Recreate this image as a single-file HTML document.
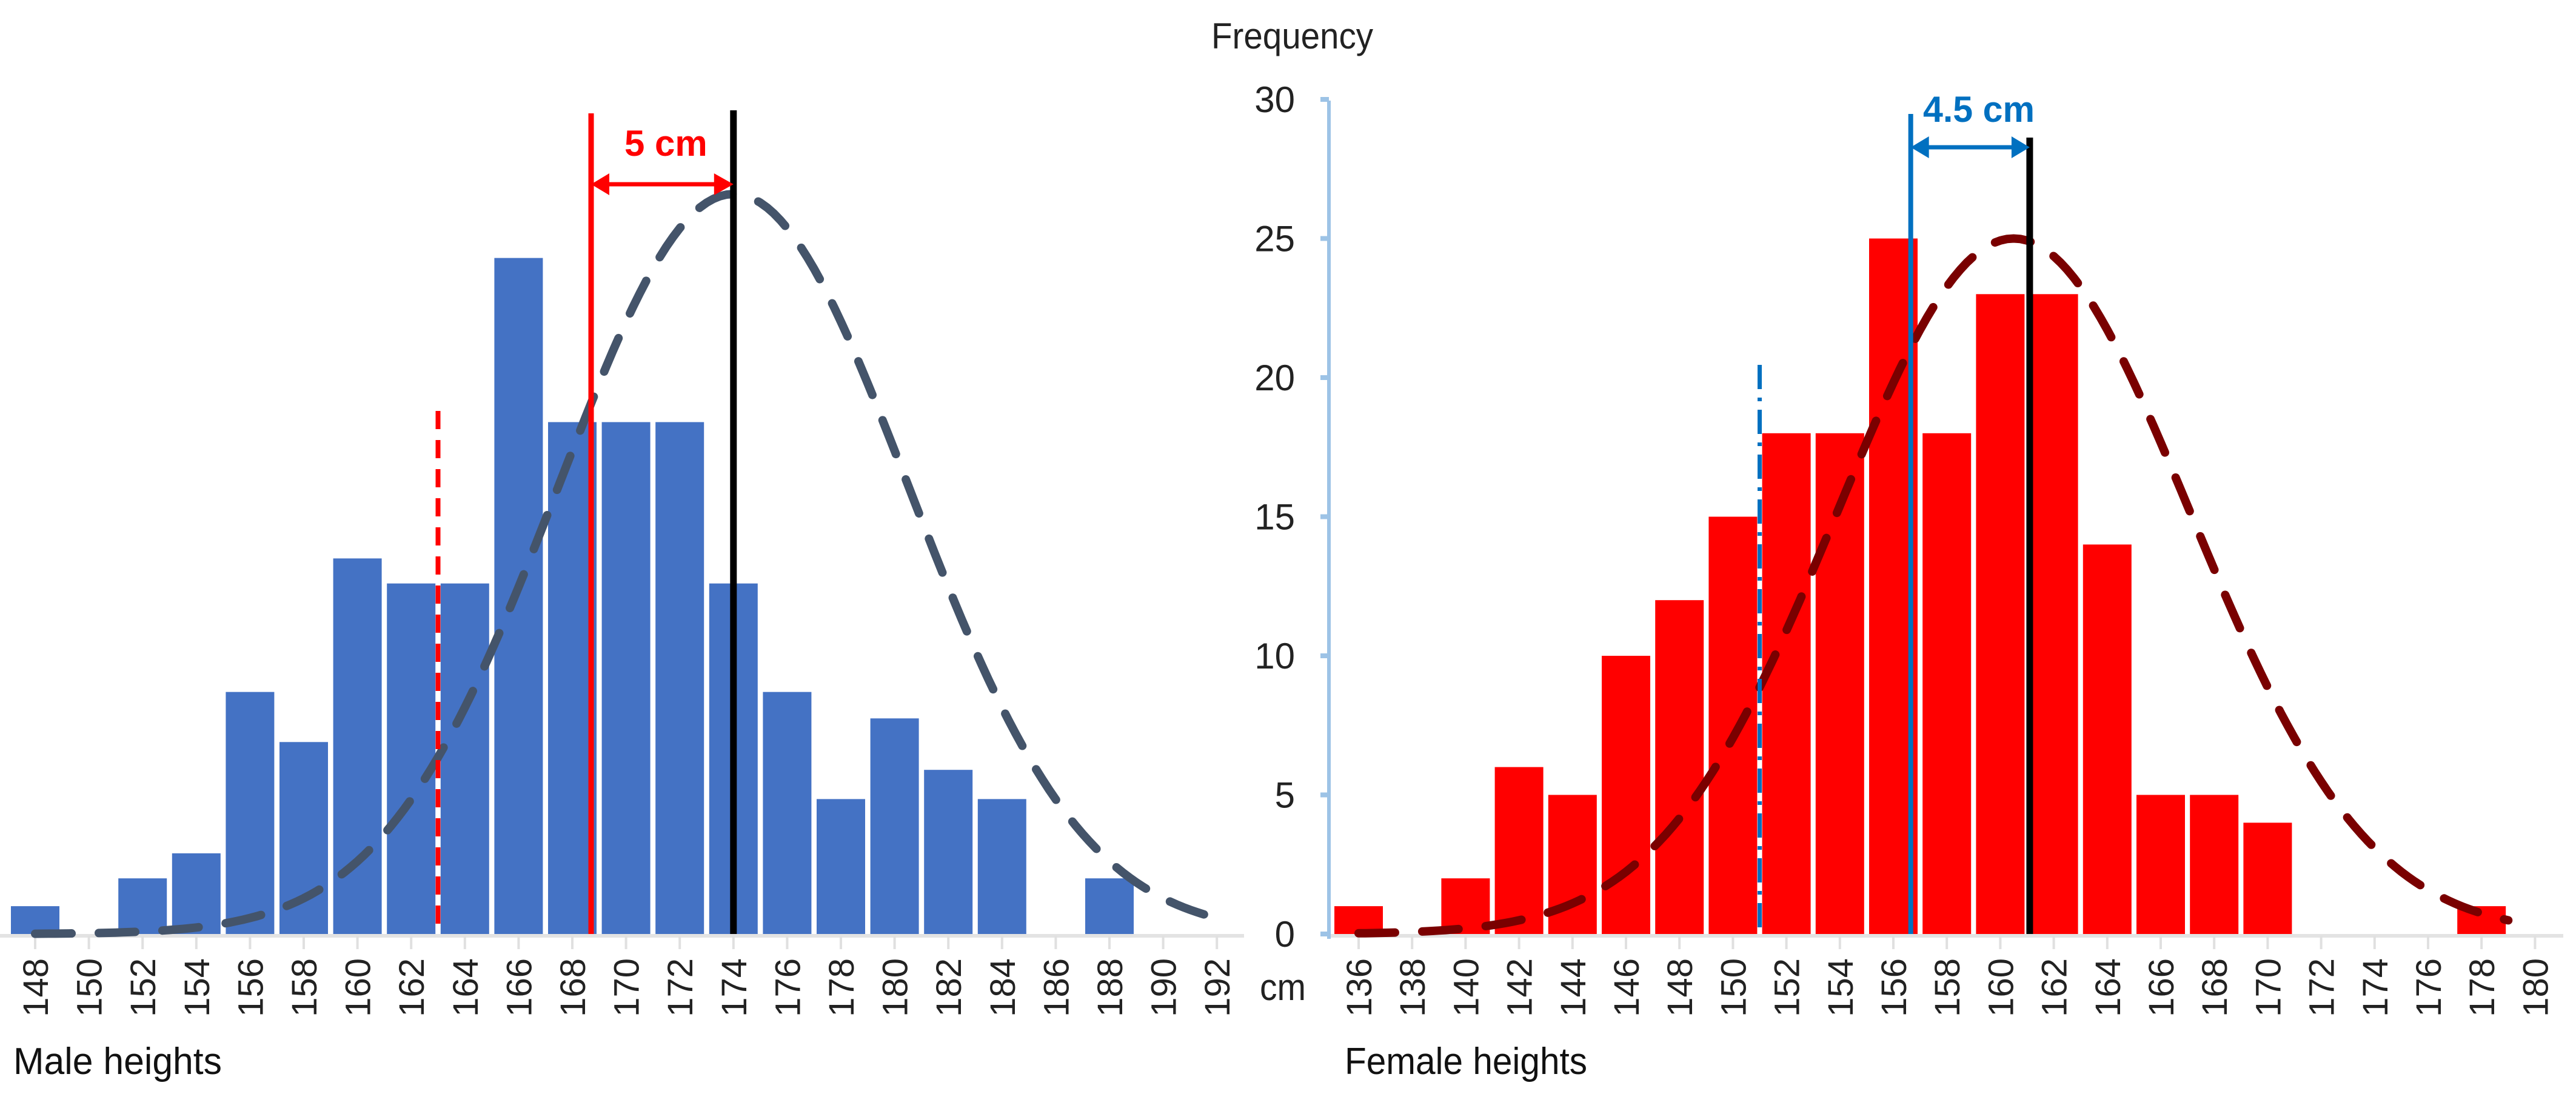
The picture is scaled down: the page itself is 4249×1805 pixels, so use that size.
<!DOCTYPE html>
<html><head><meta charset="utf-8"><style>
html,body{margin:0;padding:0;background:#fff;}
svg{display:block;}
text{font-family:"Liberation Sans Narrow","Liberation Sans",sans-serif;}
</style></head><body>
<svg id="chart" width="4249" height="1805" viewBox="0 0 4249 1805" xmlns="http://www.w3.org/2000/svg">
<g id="male"></g>
<g id="female"></g>
<g id="common"></g>
</svg>
<script>
const maleCategories = [148,150,152,154,156,158,160,162,164,166,168,170,172,174,176,178,180,182,184,186,188,190,192];
const maleValues = [1,0,2,2.9,8.7,6.9,13.5,12.6,12.6,24.3,18.4,18.4,18.4,12.6,8.7,4.85,7.75,5.9,4.85,0,2,0,0];
const femaleCategories = [136,138,140,142,144,146,148,150,152,154,156,158,160,162,164,166,168,170,172,174,176,178,180];
const femaleValues = [1,0,2,6,5,10,12,15,18,18,25,18,23,23,14,5,5,4,0,0,0,1,0];
const yTicks = [0,5,10,15,20,25,30];
const maleCurve = {mean:174, sd:6.5, peak:26.6, from:148, to:192.5};
const femaleCurve = {mean:160.5, sd:6.6, peak:25, from:136, to:179};
const maleMarkers = {dashed:163, mean:168.7, peak:174, label:"5 cm"};
const femaleMarkers = {dashed:151, mean:156.65, peak:161.1, label:"4.5 cm"};

const NS = "http://www.w3.org/2000/svg";
const BASE = 1541, UNIT = 45.9;
const yS = v => BASE - v*UNIT;
const xMale = v => 58 + (v-148)*44.3;
const xFemale = v => 2241 + (v-136)*44.1;
function mk(parent, tag, attrs, txt){
  const e = document.createElementNS(NS, tag);
  for (const k in attrs) e.setAttribute(k, attrs[k]);
  if (txt !== undefined) e.textContent = txt;
  parent.appendChild(e);
  return e;
}

function drawPanel(g, cats, vals, xS, color, curve, curveColor, axisStart, axisEnd){
  const ax = mk(g,'line',{x1:axisStart,x2:axisEnd,y1:BASE+3,y2:BASE+3,stroke:'#e3e3e3','stroke-width':6});
  
  
  cats.forEach((c,i)=>{
    const x = xS(c);
    const t = mk(g,'line',{x1:x,x2:x,y1:BASE+3,y2:BASE+25,stroke:'#e0e0e0','stroke-width':4});
    
    
    const lab = mk(g,'text',{x:0,y:0,'font-size':58,fill:'#222','text-anchor':'end',
      'font-family':'"Liberation Sans",sans-serif',
      transform:`translate(${x+21},1581) rotate(-90)`}, String(c));
    
    
    if (vals[i] > 0){
      const h = vals[i]*UNIT;
      const r = mk(g,'rect',{x:x-40,y:BASE-h,width:80,height:h,fill:color});
      
      
    }
  });
  let d = '';
  for (let v = curve.from; v <= curve.to + 1e-9; v += 0.25){
    const f = curve.peak*Math.exp(-Math.pow(v-curve.mean,2)/(2*curve.sd*curve.sd));
    d += (d ? 'L' : 'M') + xS(v).toFixed(1) + ',' + yS(f).toFixed(1);
  }
  const p = mk(g,'path',{d:d,fill:'none',stroke:curveColor,'stroke-width':14,'stroke-dasharray':'60 45','stroke-linecap':'round'});
  
  
}

const gm = document.getElementById('male');
drawPanel(gm, maleCategories, maleValues, xMale, '#4472c4', maleCurve, '#44546a', 0, 2052);
const gf = document.getElementById('female');
drawPanel(gf, femaleCategories, femaleValues, xFemale, '#ff0000', femaleCurve, '#7a0000', 2192, 4228);

let e;
e = mk(gm,'line',{x1:xMale(maleMarkers.dashed),x2:xMale(maleMarkers.dashed),y1:678,y2:BASE,stroke:'#ff0000','stroke-width':8,'stroke-dasharray':'30 18'});


e = mk(gm,'line',{x1:xMale(maleMarkers.mean),x2:xMale(maleMarkers.mean),y1:187,y2:BASE,stroke:'#ff0000','stroke-width':9});


e = mk(gm,'line',{x1:xMale(maleMarkers.peak),x2:xMale(maleMarkers.peak),y1:182,y2:BASE,stroke:'#000','stroke-width':11});


{
  const a = xMale(maleMarkers.mean), b = xMale(maleMarkers.peak), y = 304;
  e = mk(gm,'path',{d:`M${a+10},${y}L${b-10},${y}`,stroke:'#ff0000','stroke-width':7});
  
  
  mk(gm,'path',{d:`M${a},${y}L${a+30},${y-18}L${a+30},${y+18}Z M${b},${y}L${b-32},${y-18}L${b-32},${y+18}Z`,fill:'#ff0000'});
  e = mk(gm,'text',{x:(a+b)/2+6,y:257,'font-size':60,'font-weight':'bold',fill:'#ff0000','text-anchor':'middle'},maleMarkers.label);
  
  
}
e = mk(gf,'line',{x1:xFemale(femaleMarkers.dashed),x2:xFemale(femaleMarkers.dashed),y1:602,y2:BASE,stroke:'#0070c0','stroke-width':7,'stroke-dasharray':'40 14 6 14'});


e = mk(gf,'line',{x1:xFemale(femaleMarkers.mean),x2:xFemale(femaleMarkers.mean),y1:188,y2:BASE,stroke:'#0070c0','stroke-width':8});


e = mk(gf,'line',{x1:xFemale(femaleMarkers.peak),x2:xFemale(femaleMarkers.peak),y1:227,y2:BASE,stroke:'#000','stroke-width':11});


{
  const a = xFemale(femaleMarkers.mean), b = xFemale(femaleMarkers.peak), y = 243;
  e = mk(gf,'path',{d:`M${a+10},${y}L${b-10},${y}`,stroke:'#0070c0','stroke-width':7});
  
  
  mk(gf,'path',{d:`M${a},${y}L${a+30},${y-18}L${a+30},${y+18}Z M${b},${y}L${b-30},${y-18}L${b-30},${y+18}Z`,fill:'#0070c0'});
  e = mk(gf,'text',{x:3172,y:201,'font-size':60,'font-weight':'bold',fill:'#0070c0',textLength:184,lengthAdjust:'spacingAndGlyphs'},femaleMarkers.label);
  
  
}

const gc = document.getElementById('common');
e = mk(gc,'line',{x1:2192,x2:2192,y1:166,y2:BASE+8,stroke:'#9dc3e6','stroke-width':6});


yTicks.forEach(v=>{
  const y = yS(v);
  const t = mk(gc,'line',{x1:2178,x2:2192,y1:y,y2:y,stroke:'#9dc3e6','stroke-width':8});
  
  
  const l = mk(gc,'text',{x:2136,y:y+21,'font-size':60,fill:'#222','text-anchor':'end'},String(v));
  
  
});
e = mk(gc,'text',{x:1998,y:80,'font-size':60,fill:'#222',textLength:267,lengthAdjust:'spacingAndGlyphs'},'Frequency');


e = mk(gc,'text',{x:2078,y:1650,'font-size':62,fill:'#222',textLength:76,lengthAdjust:'spacingAndGlyphs'},'cm');


e = mk(gc,'text',{x:22,y:1772,'font-size':62,fill:'#111',textLength:344,lengthAdjust:'spacingAndGlyphs'},'Male heights');


e = mk(gc,'text',{x:2218,y:1772,'font-size':62,fill:'#111',textLength:400,lengthAdjust:'spacingAndGlyphs'},'Female heights');


</script>
</body></html>
